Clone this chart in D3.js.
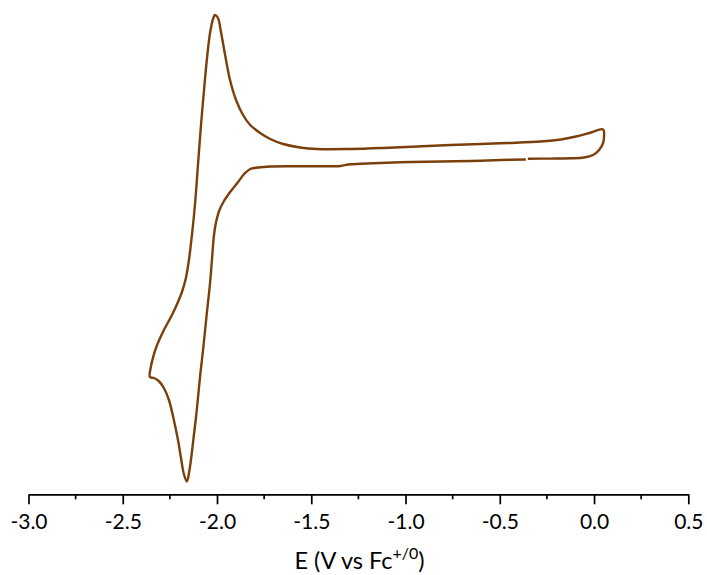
<!DOCTYPE html>
<html>
<head>
<meta charset="utf-8">
<script src="https://cdn.jsdelivr.net/npm/d3@7"></script>
<style>
  html, body { margin: 0; padding: 0; background: #fff; }
  svg { display: block; }
</style>
</head>
<body>
<svg id="chart" width="707" height="575"></svg>
<script>
// Potential (V vs Fc+/0) along the scan, in scan order
const potential = [
  -0.362, -0.495, -0.654, -0.814, -0.973, -1.133, -1.239, -1.303, -1.346, -1.452,
  -1.612, -1.718, -1.782, -1.824, -1.856, -1.888, -1.926, -1.963, -1.989, -2.005,
  -2.016, -2.027, -2.037, -2.056, -2.074, -2.088, -2.109, -2.130, -2.146, -2.160,
  -2.176, -2.191, -2.207, -2.229, -2.255, -2.282, -2.309, -2.335, -2.356,
  -2.351, -2.340, -2.324, -2.287, -2.239, -2.207, -2.186, -2.165, -2.149, -2.133,
  -2.117, -2.101, -2.085, -2.069, -2.053, -2.037, -2.021, -2.011, -1.995, -1.979,
  -1.957, -1.931, -1.899, -1.862, -1.824, -1.771, -1.718, -1.649, -1.559, -1.468,
  -1.293, -1.117, -0.936, -0.761, -0.601, -0.457, -0.282, -0.176, -0.096, -0.016, 0.048,
  0.053, 0.048, 0.027, -0.005, -0.053, -0.122, -0.229, -0.351
];
// Current (arbitrary units) at each point
const current = [
  -1.9, -2.0, -2.2, -2.3, -2.4, -2.6, -2.76, -2.9, -3.2, -3.26,
  -3.24, -3.3, -3.5, -3.8, -4.8, -6.4, -8.2, -10.2, -12.2, -14.4,
  -17.0, -22.0, -26.6, -33.4, -40.0, -44.6, -52.6, -59.4, -64.0, -66.3,
  -64.8, -61.6, -58.0, -54.0, -50.0, -47.6, -46.2, -45.6, -45.4,
  -43.4, -41.6, -39.6, -36.4, -33.0, -30.4, -28.4, -25.6, -22.0, -17.0,
  -11.0, -3.0, 5.0, 12.0, 18.4, 23.4, 26.2, 27.0, 26.4, 23.6,
  19.0, 14.0, 10.0, 7.0, 5.0, 3.4, 2.2, 1.2, 0.5, 0.2,
  0.2, 0.4, 0.7, 1.0, 1.2, 1.4, 1.7, 2.1, 2.7, 3.5, 4.1,
  2.6, 1.4, 0.0, -1.0, -1.5, -1.66, -1.72, -1.74
];
const xTicks = [-3.0, -2.5, -2.0, -1.5, -1.0, -0.5, 0.0, 0.5];
const xMinorTicks = [-2.75, -2.25, -1.75, -1.25, -0.75, -0.25, 0.25];
const xLabel = "E (V vs Fc";
const xLabelSup = "+/0";

const svg = d3.select("#chart");
const axisY = 494.3;
const x = d3.scaleLinear().domain([-3.0, 0.5]).range([28.5, 688.3]);
const y = d3.scaleLinear().domain([-68.86, 30]).range([axisY, 0]);

const pts = potential.map((v, i) => [v, current[i]]);
const line = d3.line()
  .x(d => x(d[0]))
  .y(d => y(d[1]))
  .curve(d3.curveCatmullRom.alpha(0.5));

svg.append("path")
  .datum(pts)
  .attr("d", line)
  .attr("fill", "none")
  .attr("stroke", "#7b3f0c")
  .attr("stroke-width", 2.4)
  .attr("stroke-linejoin", "round")
  .attr("stroke-linecap", "butt");

const fontFam = "Lato, 'Open Sans', sans-serif";
const axisG = svg.append("g").attr("transform", `translate(0,${axisY})`);
const axis = d3.axisBottom(x).tickValues(xTicks).tickSize(10).tickSizeOuter(0)
  .tickFormat(d3.format(".1f"));
axisG.call(axis);
axisG.select(".domain").attr("stroke", "#000").attr("stroke-width", 1.7);
axisG.selectAll(".tick line").attr("stroke", "#000").attr("stroke-width", 1.7);
axisG.selectAll(".tick text")
  .attr("font-family", fontFam)
  .attr("font-size", 21)
  .attr("fill", "#000")
  .attr("dy", null)
  .attr("y", 35)
  .text(d => d3.format(".1f")(d).replace("\u2212", "-"));

axisG.selectAll(".minor")
  .data(xMinorTicks)
  .enter().append("line")
  .attr("class", "minor")
  .attr("x1", d => x(d)).attr("x2", d => x(d))
  .attr("y1", 0).attr("y2", 5)
  .attr("stroke", "#000").attr("stroke-width", 1.7);

const title = svg.append("text")
  .attr("x", 359.5).attr("y", 569)
  .attr("text-anchor", "middle")
  .attr("font-family", fontFam)
  .attr("font-size", 23.5)
  .attr("fill", "#000");
title.append("tspan").text(xLabel);
title.append("tspan").attr("font-size", 16).attr("dy", -10).text(xLabelSup);
title.append("tspan").attr("dy", 10).text(")");
</script>
</body>
</html>
